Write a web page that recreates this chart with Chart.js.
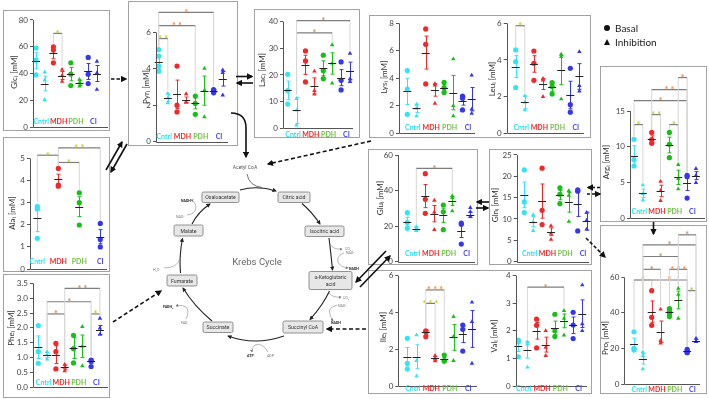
<!DOCTYPE html>
<html>
<head>
<meta charset="utf-8">
<script src="https://cdn.jsdelivr.net/npm/chart.js@4.4.1/dist/chart.umd.min.js"></script>
<style>
  html, body { margin: 0; padding: 0; background: #fff; }
  #fig { position: relative; width: 709px; height: 399px; overflow: hidden; font-family: Lato, "Open Sans", sans-serif; }
  .box { position: absolute; border: 1px solid #a2a2a2; box-sizing: border-box; }
  canvas { position: absolute; }
  svg { position: absolute; left: 0; top: 0; }
</style>
</head>
<body>
<div id="fig"></div>
<script>
// groups and conditions (each group: basal column, then inhibition column)
const groups = ['Cntrl', 'MDH', 'PDH', 'CI'];
const conditions = ['Basal', 'Inhibition'];

// --- data (mM) ---
const glcValues = [[59, 50, 39], [41, 35, 20.5], [60, 57.5, 48], [43, 38.5, 34], [48, 39.5, 31], [35.5, 33, 30.5], [52, 39.5, 32.5], [49, 40.5, 28]];
const glcMean = [49.5, 32.5, 55, 38.5, 39.5, 33, 41.5, 40];
const glcErr = [6, 5.5, 4, 3, 5, 2, 6, 6];
const glcSig = [[3, 4, 70, '*', 'y']];

const pyrValues = [[5.05, 4.7, 4.15, 3.87], [2.64, 2.4, 2.13], [4.15, 2.0, 1.63], [2.62, 2.18, 2.15], [2.5, 2.1, 1.5], [4.02, 2.83, 1.36], [2.86, 2.8, 2.74, 2.68], [3.93, 3.78, 2.55]];
const pyrMean = [4.35, 2.42, 2.6, 2.3, 2.1, 2.8, 2.78, 3.45];
const pyrErr = [0.37, 0.2, 0.78, 0.15, 0.3, 0.8, 0.07, 0.4];
const pyrSig = [[1, 2, 5.66, '* *', 'y'], [1, 5, 6.37, '* *', 'o'], [1, 7, 7.1, '*', 'o']];

const lacValues = [[20.25, 14.1, 9.1], [11.1, 6.75, 1.2], [29, 25.25, 17.4], [21.4, 14.1, 12.75], [27.4, 21.6, 18.6], [31.25, 24.4, 16.9], [24.9, 18, 14.4], [28.1, 18.5, 17.5]];
const lacMean = [14.2, 6.7, 23.8, 15.9, 22.5, 24.3, 19, 21.5];
const lacErr = [3.5, 4.9, 3.6, 3, 2.8, 4, 3, 3.3];
const lacSig = [[2, 6, 35.75, '*', 't'], [2, 8, 40.4, '*', 't']];

const lysValues = [[4.56, 3.22, 1.38], [2.1, 1.82, 1.26], [7.59, 6.47, 3.59], [3.6, 3.5, 2.18], [3.71, 3.32, 2.96], [5.4, 2.0, 1.26], [2.71, 2.55, 1.7], [4.22, 1.75, 1.45]];
const lysMean = [3.05, 1.82, 5.87, 3.15, 3.32, 2.96, 2.35, 2.48];
const lysErr = [0.95, 0.3, 1.2, 0.45, 0.22, 1.25, 0.3, 0.85];
const lysSig = [];

const leuValues = [[4.55, 3.91, 2.49], [2.04, 1.69, 1.27], [4.49, 3.82, 2.89], [2.98, 2.9, 2.0], [2.76, 2.55, 2.15], [4.31, 4.18, 1.87], [3.55, 1.56, 1.15], [4.45, 2.6, 2.3]];
const leuMean = [3.64, 1.69, 3.78, 2.69, 2.5, 3.45, 2.09, 3.1];
const leuErr = [0.6, 0.35, 0.45, 0.3, 0.2, 0.8, 0.75, 0.7];
const leuSig = [[1, 2, 5.87, '*', 'y']];

const argValues = [[11.03, 8.18, 7.29], [4.63, 3.41, 2.48], [12, 10.98, 10.47], [5.14, 3.83, 2.43], [12, 10.33, 8.46], [7.48, 5.51, 4.07], [5.98, 5.79, 2.8], [6.92, 5.98, 4.95]];
const argMean = [8.74, 3.45, 11.07, 3.8, 10.23, 5.7, 4.86, 5.95];
const argErr = [1.4, 0.6, 0.45, 0.8, 1.1, 1.0, 1.0, 0.55];
const argSig = [[1, 2, 13.1, '*', 'y'], [3, 4, 14.5, '* *', 'y'], [5, 6, 13.1, '*', 'y'], [1, 7, 16.45, '*', 'o'], [3, 7, 18.0, '* *', 'o'], [6, 7, 19.7, '*', 'o']];

const alaValues = [[2.82, 2.71, 1.39], [4.55, 3.8, 3.75], [3.45, 3.0, 1.99], [2.06, 1.34, 1.0]];
const alaMean = [2.29, 4.07, 2.82, 1.46];
const alaErr = [0.6, 0.22, 0.45, 0.32];
const alaSig = [[1, 2, 5.15, '*', 'y'], [2, 3, 4.82, '*', 'y'], [2, 4, 5.48, '* *', 'y']];

const pheValues = [[2.08, 1.2, 0.81], [1.2, 1.1, 0.95], [1.48, 1.2, 0.62], [0.77, 0.67, 0.55], [1.75, 1.3, 0.82], [2.04, 1.38, 0.72], [0.92, 0.88, 0.7], [2.32, 1.99, 1.78]];
const pheMean = [1.35, 1.08, 1.1, 0.67, 1.32, 1.38, 0.88, 1.93];
const pheErr = [0.38, 0.08, 0.3, 0.08, 0.35, 0.38, 0.07, 0.15];
const pheSig = [[2, 4, 2.47, '*', 't'], [7, 8, 2.47, '*', 'y'], [2, 7, 2.88, '*', 't'], [4, 8, 3.33, '* *', 't']];

const gluValues = [[27.6, 22.1, 18.75], [19.7, 18.6, 17.4], [49.5, 35.1, 27.2], [34.5, 27.9, 18], [31.9, 28.1, 18], [37, 36, 28.5], [21.75, 21, 9.9], [30.4, 28.1, 25.5]];
const gluMean = [22.5, 18.5, 36.9, 27, 26.1, 34.1, 17.4, 26.3];
const gluErr = [2.5, 1, 6.5, 4.6, 4, 2.5, 3.8, 1.5];
const gluSig = [[2, 6, 52.5, '*', 't']];

const glnValues = [[21.5, 14, 11.5], [11, 9.3, 7.27], [21.9, 12.03, 8.7], [8.4, 6.6, 5.2], [17.3, 15.8, 13.6], [16.6, 15.5, 9.4], [16.8, 16.5, 7.2], [11.5, 9.7, 7.6]];
const glnMean = [15.65, 9.4, 14.2, 7.0, 15.6, 13.9, 13.6, 9.5];
const glnErr = [3, 1.2, 4, 0.9, 1.1, 2.3, 3, 2.1];
const glnSig = [];

const proValues = [[29.4, 20.1, 19.1], [18, 15.9, 8.4], [52.5, 37.5, 33], [42, 24.4, 22.9], [42.4, 40.9, 39.5, 37.9], [53.8, 50.4, 36.9], [19.5, 18.6, 17.8, 17.6], [25.7, 24, 23.8]];
const proMean = [22.5, 14.25, 40.7, 29.4, 40.5, 47.25, 18.5, 24.4];
const proErr = [3.3, 3, 6, 6, 1.2, 5, 0.5, 0.7];
const proSig = [[7, 8, 52.5, '*', 'y'], [1, 3, 58.5, '*', 'o'], [3, 7, 58.5, '*', 'o'], [2, 4, 64.5, '*', 't'], [5, 7, 64.5, '* * *', 'o'], [2, 6, 71.7, '*', 't'], [2, 8, 78.2, '*', 't'], [6, 8, 83.9, '*', 't']];

const ileValues = [[2.59, 1.23, 0.92], [2.77, 1.38, 0.54], [3.0, 2.95, 2.68], [1.65, 1.5, 1.36], [1.68, 1.38, 1.35], [3.77, 2.68, 1.38], [3.31, 3.08, 1.9], [4.55, 3.5, 1.23]];
const ileMean = [1.59, 1.59, 2.92, 1.5, 1.45, 2.64, 2.81, 3.1];
const ileErr = [0.5, 0.65, 0.1, 0.1, 0.1, 0.7, 0.45, 1.0];
const ileSig = [[3, 4, 4.49, '* * *', 'y'], [3, 5, 5.22, '* * *', 'o']];

const valValues = [[1.66, 1.6, 1.06], [1.6, 1.51, 0.68], [2.42, 2.2, 1.38], [2.0, 1.4, 1.1], [2.6, 2.0, 1.79], [2.73, 2.45, 1.84], [2.67, 2.21, 1.72], [3.66, 2.25, 2.0]];
const valMean = [1.45, 1.31, 2.0, 1.5, 2.1, 2.36, 2.2, 2.62];
const valErr = [0.2, 0.3, 0.3, 0.27, 0.25, 0.25, 0.3, 0.5];
const valSig = [[2, 6, 3.58, '*', 't']];

// --- colours ---
const groupColors = ['#35e3f2', '#f0282c', '#17bf17', '#3636ef'];
const labelColors = ['#30dff0', '#ef2a2a', '#74c24a', '#4848ee'];
const starColors = { y: '#c8cb22', o: '#f58a3d', t: '#b9935f' };

// --- panel geometry (page pixels) ---
const panels = [
  { name: 'Glc', values: glcValues, mean: glcMean, err: glcErr, sig: glcSig, yAxisX: 33, y0: 127, ppu: 1.3375, chartTop: 13, axisTop: 80, step: 20, dec: 0, x1: 36, sp: 8.7, xEnd: 108, titleX: 14, titleY: 72, labelDy: -5 },
  { name: 'Pyr', values: pyrValues, mean: pyrMean, err: pyrErr, sig: pyrSig, yAxisX: 156, y0: 141.6, ppu: 18.2, chartTop: 4, axisTop: 6, step: 2, dec: 0, x1: 158.7, sp: 9.15, xEnd: 228, titleX: 146, titleY: 87, labelDy: -5 },
  { name: 'Lac', values: lacValues, mean: lacMean, err: lacErr, sig: lacSig, yAxisX: 283, y0: 128.3, ppu: 2.667, chartTop: 12, axisTop: 40, step: 10, dec: 0, x1: 287.7, sp: 8.9, xEnd: 353, titleX: 262, titleY: 70, labelDy: 6 },
  { name: 'Lys', values: lysValues, mean: lysMean, err: lysErr, sig: lysSig, yAxisX: 399, y0: 133.3, ppu: 13.75, chartTop: 18, axisTop: 8, step: 2, dec: 0, x1: 407.3, sp: 9.2, xEnd: 475, titleX: 384, titleY: 77, labelDy: -6 },
  { name: 'Leu', values: leuValues, mean: leuMean, err: leuErr, sig: leuSig, yAxisX: 506.7, y0: 133.3, ppu: 18.33, chartTop: 18, axisTop: 6, step: 2, dec: 0, x1: 515.7, sp: 9.1, xEnd: 584, titleX: 492, titleY: 79, labelDy: -6 },
  { name: 'Arg', values: argValues, mean: argMean, err: argErr, sig: argSig, yAxisX: 630, y0: 218, ppu: 7.13, chartTop: 69, axisTop: 15, step: 5, dec: 0, x1: 634, sp: 8.85, xEnd: 705, titleX: 606, titleY: 162, labelDy: -6 },
  { name: 'Ala', values: alaValues, mean: alaMean, err: alaErr, sig: alaSig, yAxisX: 30, y0: 269, ppu: 22.1, chartTop: 140, axisTop: 5, step: 1, dec: 0, x1: 37.3, sp: 20.9, xEnd: 106.7, titleX: 12, titleY: 213, labelDy: -7 },
  { name: 'Phe', values: pheValues, mean: pheMean, err: pheErr, sig: pheSig, yAxisX: 33, y0: 387.3, ppu: 29.7, chartTop: 277, axisTop: 3.5, step: 0.5, dec: 1, x1: 38.3, sp: 8.8, xEnd: 108, titleX: 11, titleY: 328, labelDy: -4.5 },
  { name: 'Glu', values: gluValues, mean: gluMean, err: gluErr, sig: gluSig, yAxisX: 398, y0: 261.7, ppu: 1.778, chartTop: 152, axisTop: 60, step: 20, dec: 0, x1: 407.3, sp: 9.0, xEnd: 475, titleX: 380, titleY: 198, labelDy: -7.5 },
  { name: 'Gln', values: glnValues, mean: glnMean, err: glnErr, sig: glnSig, yAxisX: 516.7, y0: 261.7, ppu: 4.27, chartTop: 152, axisTop: 25, step: 5, dec: 0, x1: 524.3, sp: 8.9, xEnd: 589, titleX: 495, titleY: 205, labelDy: -7.5 },
  { name: 'Pro', values: proValues, mean: proMean, err: proErr, sig: proSig, yAxisX: 624.3, y0: 384, ppu: 1.778, chartTop: 226, axisTop: 60, step: 20, dec: 0, x1: 634, sp: 8.86, xEnd: 700, titleX: 605, titleY: 338, labelDy: 6 },
  { name: 'Ile', values: ileValues, mean: ileMean, err: ileErr, sig: ileSig, yAxisX: 398.3, y0: 386, ppu: 18.4, chartTop: 273, axisTop: 6, step: 2, dec: 0, x1: 407.3, sp: 9.2, xEnd: 476.7, titleX: 383, titleY: 327, labelDy: 3 },
  { name: 'Val', values: valValues, mean: valMean, err: valErr, sig: valSig, yAxisX: 515.7, y0: 386, ppu: 27.6, chartTop: 273, axisTop: 4, step: 1, dec: 0, x1: 518.3, sp: 9.14, xEnd: 587, titleX: 494, titleY: 336, labelDy: 3 }
];

// frames around the panels [left, top, right, bottom]
const frames = [[3, 10, 110, 131], [128, 1, 238, 146], [254, 9, 360, 138], [369, 15, 591, 138], [600, 66, 707, 222],
  [3, 137, 110, 272], [3, 274, 110, 398], [368, 149, 478, 265], [489, 149, 592, 265], [600, 225, 707, 394], [368, 270, 592, 394]];

const fig = document.getElementById('fig');

frames.forEach(([l, t, r, b]) => {
  const d = document.createElement('div');
  d.className = 'box';
  d.style.left = l + 'px'; d.style.top = t + 'px';
  d.style.width = (r - l) + 'px'; d.style.height = (b - t) + 'px';
  fig.appendChild(d);
});

// error bars, means, brackets, axes, group labels and axis titles
const panelPlugin = {
  id: 'panel',
  beforeDatasetsDraw(chart) {
    const P = chart.canvas._panel, p = P.p, ctx = chart.ctx;
    const xs = chart.scales.x, ys = chart.scales.y;
    ctx.save();
    ctx.lineWidth = 1;
    // error bars
    p.mean.forEach((m, i) => {
      const x = Math.round(xs.getPixelForValue(i + 1)) + 0.5;
      const yt = ys.getPixelForValue(m + p.err[i]), yb = ys.getPixelForValue(m - p.err[i]);
      ctx.strokeStyle = P.colors[i];
      ctx.beginPath();
      ctx.moveTo(x, yt); ctx.lineTo(x, yb);
      ctx.moveTo(x - 2, yt); ctx.lineTo(x + 2, yt);
      ctx.moveTo(x - 2, yb); ctx.lineTo(x + 2, yb);
      ctx.stroke();
    });
    // significance brackets
    p.sig.forEach(([a, b, v, stars, c]) => {
      const xa = xs.getPixelForValue(a), xb = xs.getPixelForValue(b), y = ys.getPixelForValue(v);
      ctx.strokeStyle = '#d6d6d6';
      ctx.lineWidth = 1;
      ctx.beginPath();
      [a, b].forEach(k => {
        const xx = xs.getPixelForValue(k);
        const hi = Math.max(...p.values[k - 1], p.mean[k - 1] + p.err[k - 1]);
        ctx.moveTo(xx, y); ctx.lineTo(xx, ys.getPixelForValue(hi) - 3);
      });
      ctx.stroke();
      ctx.strokeStyle = '#7e7e7e';
      ctx.lineWidth = 1.2;
      ctx.beginPath(); ctx.moveTo(xa, y); ctx.lineTo(xb, y); ctx.stroke();
      ctx.fillStyle = starColors[c];
      ctx.font = 'bold 9px Lato';
      ctx.textAlign = 'center';
      ctx.textBaseline = 'alphabetic';
      ctx.fillText(stars, (xa + xb) / 2, y + 3.5);
    });
    ctx.restore();
  },
  afterDatasetsDraw(chart) {
    const P = chart.canvas._panel, p = P.p, ctx = chart.ctx;
    const xs = chart.scales.x, ys = chart.scales.y, a = chart.chartArea;
    ctx.save();
    // mean lines
    ctx.strokeStyle = '#222';
    ctx.lineWidth = 1;
    p.mean.forEach((m, i) => {
      const x = xs.getPixelForValue(i + 1), y = Math.round(ys.getPixelForValue(m)) + 0.5;
      ctx.beginPath(); ctx.moveTo(x - 4, y); ctx.lineTo(x + 4, y); ctx.stroke();
    });
    // axes
    const y0 = Math.round(ys.getPixelForValue(0)) + 0.5, xl = Math.round(a.left) + 0.5;
    ctx.strokeStyle = '#555';
    ctx.beginPath();
    ctx.moveTo(xl, ys.getPixelForValue(p.axisTop)); ctx.lineTo(xl, y0); ctx.lineTo(a.right, y0);
    ctx.stroke();
    // group labels
    ctx.font = 'bold 7px Lato';
    ctx.textAlign = 'center';
    ctx.textBaseline = 'middle';
    groups.forEach((g, i) => {
      const pos = p.values.length === 8 ? 2 * i + 1.6 : i + 1;
      ctx.fillStyle = labelColors[i];
      ctx.fillText(g, xs.getPixelForValue(pos), ys.getPixelForValue(0) + p.labelDy);
    });
    // rotated axis title with subscript i
    ctx.translate(p.titleX - P.left, p.titleY - P.top);
    ctx.rotate(-Math.PI / 2);
    ctx.fillStyle = '#333';
    ctx.textAlign = 'left';
    ctx.textBaseline = 'middle';
    const big = '8px Lato', small = '6px Lato';
    ctx.font = big; const w1 = ctx.measureText(p.name).width, w3 = ctx.measureText(' [mM]').width;
    ctx.font = small; const w2 = ctx.measureText('i').width;
    let x = -(w1 + w2 + w3) / 2;
    ctx.font = big; ctx.fillText(p.name, x, 0); x += w1;
    ctx.font = small; ctx.fillText('i', x, 2); x += w2;
    ctx.font = big; ctx.fillText(' [mM]', x, 0);
    ctx.restore();
  }
};

function makePanel(p) {
  const padTop = 8, padBottom = 14, padRight = 4;
  const left = p.titleX - 8, top = p.chartTop - padTop;
  const w = Math.round(p.xEnd - left + padRight);
  const h = Math.round(p.y0 - p.chartTop + padTop + padBottom);
  const canvas = document.createElement('canvas');
  canvas.width = w; canvas.height = h;
  canvas.style.left = left + 'px'; canvas.style.top = top + 'px';
  fig.appendChild(canvas);

  const n = p.values.length;
  const colors = p.values.map((_, i) => n === 8 ? groupColors[Math.floor(i / 2)] : groupColors[i]);
  canvas._panel = { p, colors, left, top };

  const datasets = p.values.map((col, i) => ({
    label: groups[n === 8 ? Math.floor(i / 2) : i] + ' ' + conditions[n === 8 ? i % 2 : 0],
    data: col.map(v => ({ x: i + 1, y: v })),
    pointStyle: (n === 8 && i % 2 === 1) ? 'triangle' : 'circle',
    pointRadius: 2.6,
    pointHoverRadius: 2.6,
    backgroundColor: colors[i],
    borderWidth: 0
  }));

  new Chart(canvas, {
    type: 'scatter',
    data: { datasets },
    options: {
      responsive: false,
      animation: false,
      devicePixelRatio: 1,
      layout: { padding: { top: padTop, bottom: h - padTop - (p.y0 - p.chartTop), left: 0, right: padRight } },
      plugins: { legend: { display: false }, tooltip: { enabled: false } },
      scales: {
        x: { type: 'linear', display: false, min: 1 - (p.x1 - p.yAxisX) / p.sp, max: 1 + (p.xEnd - p.x1) / p.sp },
        y: {
          min: 0,
          max: (p.y0 - p.chartTop) / p.ppu,
          afterBuildTicks: s => {
            const t = [];
            for (let v = 0; v <= p.axisTop + 1e-9; v += p.step) t.push({ value: +v.toFixed(4) });
            s.ticks = t;
          },
          afterFit: s => { s.width = p.yAxisX - left; },
          ticks: { font: { family: 'Lato', size: 8 }, color: '#444', padding: 2, callback: v => Number(v).toFixed(p.dec) },
          grid: { drawOnChartArea: false, drawTicks: true, tickLength: 3, color: '#555' },
          border: { display: false }
        }
      }
    },
    plugins: [panelPlugin]
  });
}

panels.forEach(makePanel);
</script>
<svg width="709" height="399" viewBox="0 0 709 399" xmlns="http://www.w3.org/2000/svg" style="pointer-events:none">
  <defs>
    <marker id="ah" viewBox="0 0 10 10" refX="8" refY="5" markerWidth="4" markerHeight="4" orient="auto">
      <path d="M0,0 L10,5 L0,10 z" fill="#111"/>
    </marker>
    <marker id="as" viewBox="0 0 10 10" refX="8" refY="5" markerWidth="4" markerHeight="4" orient="auto">
      <path d="M0,0 L10,5 L0,10 z" fill="#222"/>
    </marker>
    <marker id="ag" viewBox="0 0 10 10" refX="8" refY="5" markerWidth="5" markerHeight="5" orient="auto">
      <path d="M0,0 L10,5 L0,10 z" fill="#777"/>
    </marker>
  </defs>

  <!-- legend -->
  <circle cx="607" cy="28" r="3" fill="#111"/>
  <text x="615" y="31.5" font-family="Lato" font-size="10" fill="#222">Basal</text>
  <polygon points="607,39 610,45 604,45" fill="#111"/>
  <text x="615" y="45.5" font-family="Lato" font-size="10" fill="#222">Inhibition</text>

  <!-- arrows between panels -->
  <g fill="none" stroke="#111" stroke-width="1.6">
    <path d="M111 79 L126 79" stroke-dasharray="3.5 2" marker-end="url(#ah)"/>
    <path d="M236 76.5 L252 76.5" marker-end="url(#ah)"/>
    <path d="M253 83 L237 83" marker-end="url(#ah)"/>
    <path d="M231 113 Q246 113 246 128 L246 157" marker-end="url(#ah)"/>
    <path d="M371 141 L268 164" stroke-dasharray="4 2.5" marker-end="url(#ah)"/>
    <path d="M106 170 L122 142" marker-end="url(#ah)"/>
    <path d="M127 144 L111 172" marker-end="url(#ah)"/>
    <path d="M113 322 L161 291" stroke-dasharray="4 2.5" marker-end="url(#ah)"/>
    <path d="M386 251 L356 282" marker-end="url(#ah)"/>
    <path d="M360 287 L390 256" marker-end="url(#ah)"/>
    <path d="M489 202 L477 202" marker-end="url(#ah)"/>
    <path d="M476 208 L488 208" marker-end="url(#ah)"/>
    <path d="M600 187.5 L588 187.5" stroke-dasharray="3 2" marker-end="url(#ah)"/>
    <path d="M587 194 L600 194" stroke-dasharray="3 2" marker-end="url(#ah)"/>
    <path d="M586 238 L605 257" stroke-dasharray="3.5 2" marker-end="url(#ah)"/>
    <path d="M653.5 222 L653.5 234" marker-end="url(#ah)"/>
    <path d="M366 329 L327 329" stroke-dasharray="4 2.5" marker-end="url(#ah)"/>
  </g>

  <!-- Krebs cycle -->
  <text x="245" y="168.5" font-family="Roboto" font-size="5" fill="#555" text-anchor="middle">Acetyl CoA</text>
  <path d="M247 174 Q249 186 262 187.5" fill="none" stroke="#555" stroke-width="0.8"/>
  <text x="257" y="265" font-family="Roboto" font-size="9.5" fill="#666" text-anchor="middle">Krebs Cycle</text>

  <g fill="none" stroke="#222" stroke-width="1.1">
    <path d="M240 190 Q258 185 276 191" marker-end="url(#as)"/>
    <path d="M302 203.5 Q312 212 320 224" marker-end="url(#as)"/>
    <path d="M329 238 Q331 254 332.5 270" marker-end="url(#as)"/>
    <path d="M329.5 291 Q323 305 310 319.5" marker-end="url(#as)"/>
    <path d="M284 336 Q255 346 228 336" marker-end="url(#as)"/>
    <path d="M212 321 Q194 306 183 288" marker-end="url(#as)"/>
    <path d="M180.5 273 Q179 256 182.5 238.5" marker-end="url(#as)"/>
    <path d="M192 224 Q198 212 210 204" marker-end="url(#as)"/>
  </g>
  <g fill="none" stroke="#888" stroke-width="0.6">
    <path d="M330 244 Q333 250 342 249" marker-end="url(#ag)"/>
    <path d="M344 253 Q336 256 338 262 Q340 267 348 268" marker-end="url(#ag)"/>
    <path d="M329 293 Q333 298 341 297" marker-end="url(#ag)"/>
    <path d="M337 305 Q327 308 330 314 Q331 318 333 321" marker-end="url(#ag)"/>
    <path d="M268 352 Q262 342 255 345 Q251 348 252 352" marker-end="url(#ag)"/>
    <path d="M186 319 Q190 311 186 307 Q181 304 176 306" marker-end="url(#ag)"/>
    <path d="M164 268 Q177 268 180 259"/>
    <path d="M187 215 Q196 214 196 207 Q195 201 191 200" marker-end="url(#ag)"/>
  </g>
  <g font-family="Roboto" font-size="3.6" fill="#777">
    <text x="345" y="250">CO<tspan font-size="2.5" dy="1">2</tspan></text>
    <text x="346" y="254">NAD<tspan font-size="2.5" dy="-1">+</tspan></text>
    <text x="349" y="270" fill="#222" font-weight="bold">NADH</text>
    <text x="343" y="298.5">CO<tspan font-size="2.5" dy="1">2</tspan></text>
    <text x="338" y="306.5">NAD<tspan font-size="2.5" dy="-1">+</tspan></text>
    <text x="331" y="324" fill="#222" font-weight="bold">NADH</text>
    <text x="247" y="357" fill="#222" font-weight="bold">ATP</text>
    <text x="267" y="357">ADP</text>
    <text x="163" y="307.5" fill="#222" font-weight="bold">FADH<tspan font-size="2.5" dy="1">2</tspan></text>
    <text x="181" y="324">FAD</text>
    <text x="153" y="270.5">H<tspan font-size="2.5" dy="1">2</tspan><tspan dy="-1">O</tspan></text>
    <text x="176" y="217.5">NAD<tspan font-size="2.5" dy="-1">+</tspan></text>
    <text x="181" y="201.5" fill="#222" font-weight="bold">NADH</text>
  </g>

  <g stroke="#7a7a7a" stroke-width="0.8" fill="#e7e7e7">
    <rect x="202" y="192" width="37" height="10.5" rx="1.5"/>
    <rect x="278" y="192" width="32" height="10.5" rx="1.5"/>
    <rect x="305" y="226" width="39" height="10.5" rx="1.5"/>
    <rect x="309" y="271.5" width="43" height="18" rx="1.5"/>
    <rect x="283" y="321" width="40" height="12" rx="1.5"/>
    <rect x="203" y="322" width="30" height="10.5" rx="1.5"/>
    <rect x="167" y="275" width="30" height="11" rx="1.5"/>
    <rect x="174" y="225" width="29" height="11" rx="1.5"/>
  </g>
  <g font-family="Roboto" font-size="5.2" fill="#333" text-anchor="middle">
    <text x="220.5" y="199">Oxaloacetate</text>
    <text x="294" y="199">Citric acid</text>
    <text x="324.5" y="233">Isocitric acid</text>
    <text x="330.5" y="279">α-Ketoglutaric</text>
    <text x="330.5" y="285.5">acid</text>
    <text x="303" y="329">Succinyl CoA</text>
    <text x="218" y="329">Succinate</text>
    <text x="182" y="282.5">Fumarate</text>
    <text x="188.5" y="232.5">Malate</text>
  </g>
</svg>
</body>
</html>
